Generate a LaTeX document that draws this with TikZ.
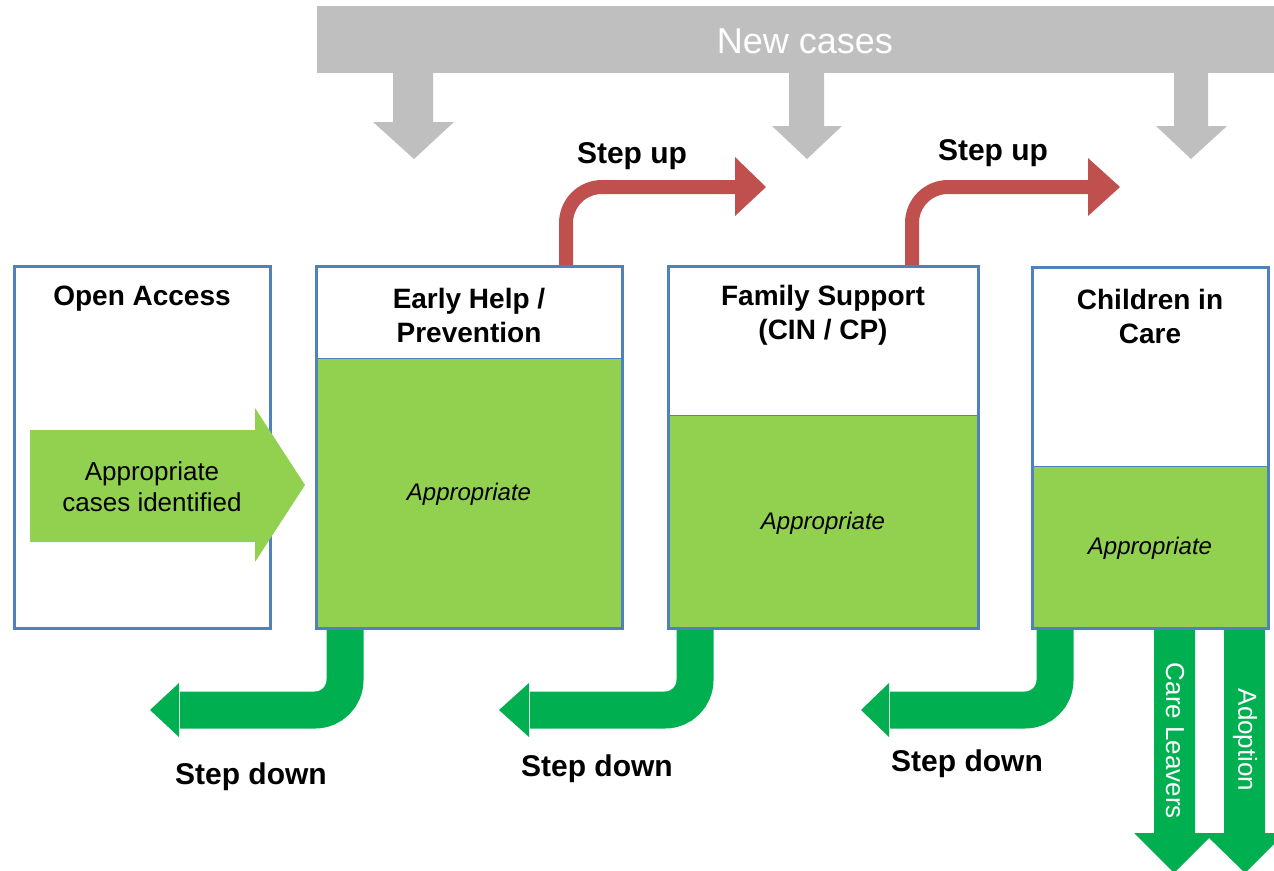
\documentclass[tikz,border=0pt]{standalone}
\usepackage{fontspec}
\setmainfont{Liberation Sans}
\definecolor{boxblue}{HTML}{4F81BD}
\definecolor{litegreen}{HTML}{92D050}
\definecolor{darkgreen}{HTML}{00B050}
\definecolor{stepred}{HTML}{C0504D}
\definecolor{newgrey}{HTML}{BFBFBF}
\begin{document}
\begin{tikzpicture}[x=1pt,y=-1pt,
  box/.style={draw=boxblue, line width=3pt, inner sep=0pt, outer sep=0pt},
  greenpart/.style={fill=litegreen, draw=boxblue, line width=0.8pt},
  header/.style={font=\fontsize{28}{34}\selectfont\bfseries, align=center, inner sep=0pt},
  steplabel/.style={font=\fontsize{30}{36}\selectfont\bfseries, inner sep=0pt},
  approp/.style={font=\fontsize{24}{28}\selectfont\itshape, inner sep=0pt},
  greyshape/.style={fill=newgrey},
  stepupline/.style={draw=stepred, line width=14pt, rounded corners=36pt},
  stepdownline/.style={draw=darkgreen, line width=37pt, rounded corners=30pt},
  exitlabel/.style={font=\fontsize{26}{30}\selectfont, text=white, rotate=-90, inner sep=0pt}
]
\useasboundingbox (0,0) rectangle (1274,870);

% New cases bar and arrows
\fill[greyshape] (317,6) rectangle (1280,73);
\node[font=\fontsize{36}{40}\selectfont, text=white, inner sep=0pt] (newcases) at (805,41) {New cases};
\fill[greyshape] (393,70) -- (433,70) -- (433,122) -- (454,122) -- (414,159) -- (373,122) -- (393,122) -- cycle;
\fill[greyshape] (789,70) -- (824,70) -- (824,126) -- (842,126) -- (807,159) -- (772,126) -- (789,126) -- cycle;
\fill[greyshape] (1174,70) -- (1208,70) -- (1208,126) -- (1227,126) -- (1191,159) -- (1156,126) -- (1174,126) -- cycle;

% Step up arrows
\draw[stepupline] (566,266) -- (566,187) -- (736,187);
\fill[stepred] (735,157) -- (766,187) -- (735,216) -- cycle;
\node[steplabel] (su1) at (632,156) {Step up};
\draw[stepupline] (912,266) -- (912,187) -- (1089,187);
\fill[stepred] (1088,158) -- (1120,187) -- (1088,216) -- cycle;
\node[steplabel] (su2) at (993,153) {Step up};

% Step down arrows
\draw[stepdownline] (345,626) -- (345,710) -- (180,710);
\fill[darkgreen] (179,683) -- (150,710) -- (179,737) -- cycle;
\node[steplabel] (sd1) at (251,777) {Step down};
\draw[stepdownline] (695,626) -- (695,710) -- (530,710);
\fill[darkgreen] (529,683) -- (499,710) -- (529,737) -- cycle;
\node[steplabel] (sd2) at (597,769) {Step down};
\draw[stepdownline] (1055,626) -- (1055,710) -- (890,710);
\fill[darkgreen] (889,683) -- (861,710) -- (889,737) -- cycle;
\node[steplabel] (sd3) at (967,764) {Step down};

% Care leavers and adoption
\fill[darkgreen] (1154,626) -- (1195,626) -- (1195,833) -- (1214,833) -- (1174,873) -- (1134,833) -- (1154,833) -- cycle;
\fill[darkgreen] (1224,626) -- (1265,626) -- (1265,833) -- (1285,833) -- (1245,873) -- (1204,833) -- (1224,833) -- cycle;
\node[exitlabel] (cl) at (1175,741) {Care Leavers};
\node[exitlabel] (ad) at (1245,740) {Adoption};

% Green filled parts
\path[greenpart] (316,358) rectangle (622,628);
\path[greenpart] (668,415) rectangle (978,628);
\path[greenpart] (1032,466) rectangle (1268,628);

% Boxes
\node[box, minimum width=256pt, minimum height=362pt] (oa) at (142,447) {};
\node[box, minimum width=306pt, minimum height=362pt] (eh) at (469,447) {};
\node[box, minimum width=310pt, minimum height=362pt] (fs) at (823,447) {};
\node[box, minimum width=236pt, minimum height=361pt] (cic) at (1150,447.5) {};

% Open access arrow (on top of the box border)
\fill[litegreen] (30,430) -- (255,430) -- (255,408) -- (305,485) -- (255,562) -- (255,542) -- (30,542) -- cycle;
\node[font=\fontsize{26}{31}\selectfont, align=center, inner sep=0pt] (aci) at (152,487) {Appropriate\\cases identified};

% Headers
\node[header] (oah) at (142,299) {Open Access};
\node[header] (ehh) at (469,315) {Early Help /\\Prevention};
\node[header] (fsh) at (823,315) {Family Support\\(CIN / CP)};
\node[header] (cich) at (1150,316) {Children in\\Care};

% Appropriate labels
\node[approp] (ap1) at (469,494) {Appropriate};
\node[approp] (ap2) at (823,523) {Appropriate};
\node[approp] (ap3) at (1150,548) {Appropriate};
\end{tikzpicture}
\end{document}
